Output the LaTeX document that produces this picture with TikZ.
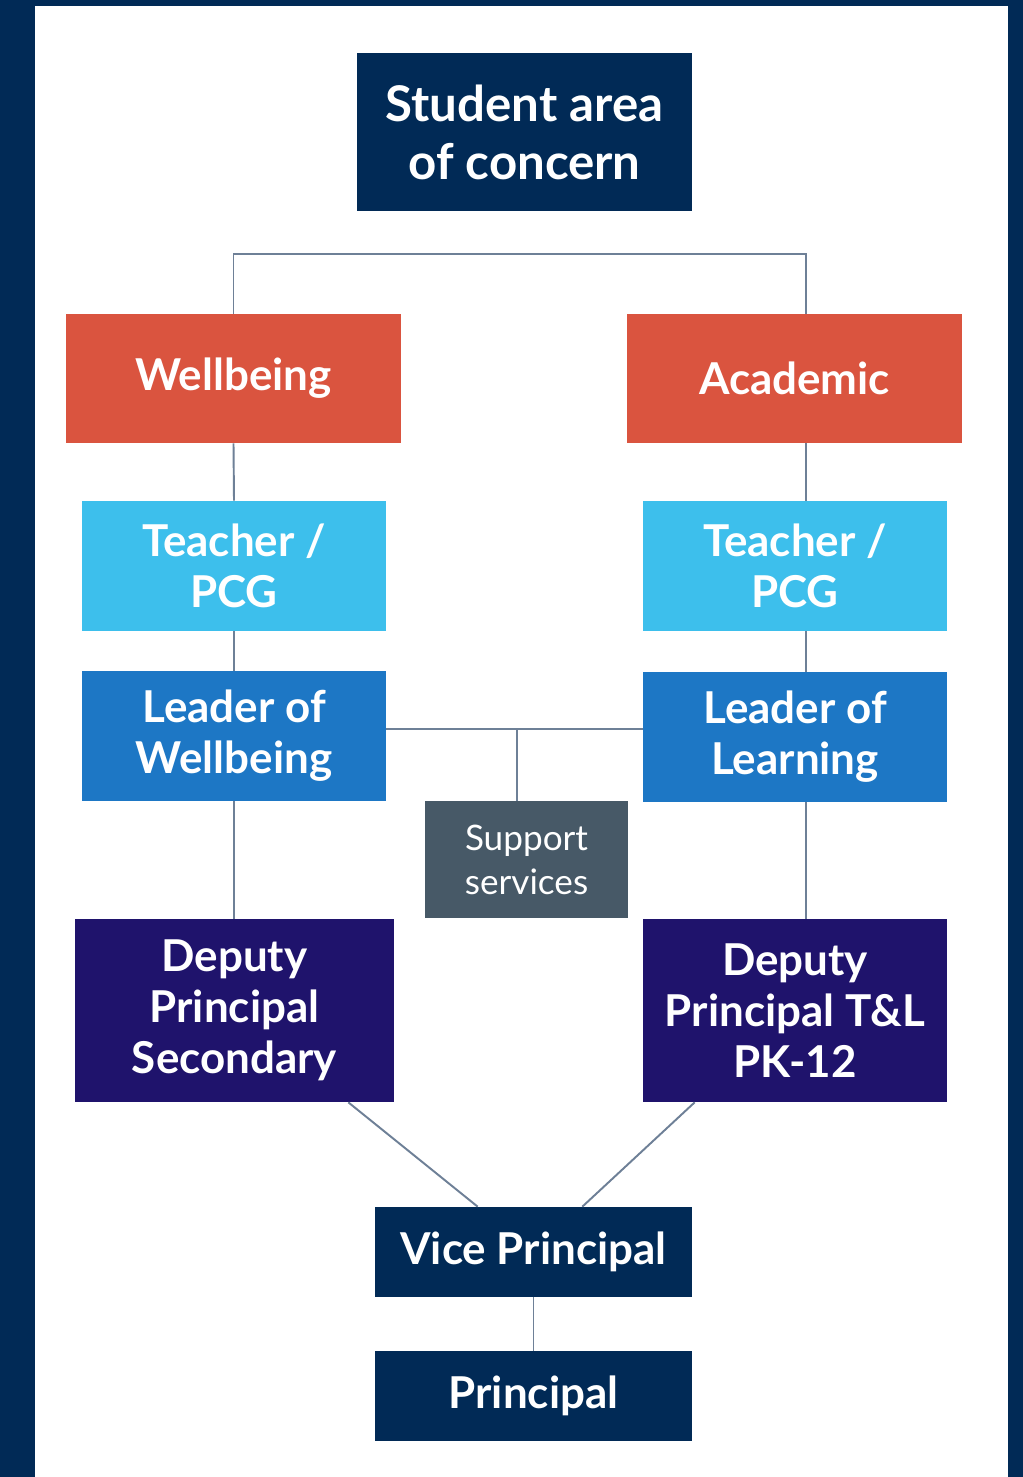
\documentclass[tikz,border=0pt]{standalone}
\usepackage{fontspec}
\setmainfont{Lato}
\usepackage{tikz}
\usetikzlibrary{calc,positioning}
\definecolor{navyC}{HTML}{012A56}
\definecolor{areaC}{HTML}{DA543F}
\definecolor{teachC}{HTML}{3DBFEC}
\definecolor{leadC}{HTML}{1D77C5}
\definecolor{suppC}{HTML}{475967}
\definecolor{deputyC}{HTML}{1F136C}
\definecolor{linkC}{HTML}{6E8097}

\begin{document}
\begin{tikzpicture}[x=0.02cm, y=-0.02cm,
    box/.style={inner sep=0pt, align=center, text=white, font=\bfseries\fontsize{25}{29}\selectfont},
    link/.style={draw=linkC, line width=1.1pt}]
      % Frame
      \useasboundingbox (0,0) rectangle (1023,1477);
      \fill[navyC] (0,0) rectangle (1023,1477);
      \fill[white] (35,6) rectangle (1008,1477);
      % Top of the tree
      \node[box, fill=navyC, minimum width=6.7cm, minimum height=3.16cm,
            font=\bfseries\fontsize{28}{33}\selectfont] (student) at (524.5,132) {Student area\\of concern};
      \node[box, fill=areaC, minimum width=6.7cm, minimum height=2.58cm] (wellb) at (233.5,378.5) {Wellbeing};
      \node[box, fill=areaC, minimum width=6.7cm, minimum height=2.58cm] (acad) at (794.5,378.5) {Academic};
      % Teachers and leaders
      \node[box, fill=teachC, minimum width=6.08cm, minimum height=2.6cm] (teachL) at (234,566) {Teacher /\\PCG};
      \node[box, fill=teachC, minimum width=6.08cm, minimum height=2.6cm] (teachR) at (795,566) {Teacher /\\PCG};
      \node[box, fill=leadC, minimum width=6.08cm, minimum height=2.6cm] (leadW) at (234,736) {Leader of\\Wellbeing};
      \node[box, fill=leadC, minimum width=6.08cm, minimum height=2.6cm] (leadL) at (795,737) {Leader of\\Learning};
      \node[box, fill=suppC, minimum width=4.06cm, minimum height=2.34cm,
            font=\fontsize{20}{25}\selectfont] (supp) at (526.5,859.5) {Support\\services};
      % Deputies and principals
      \node[box, fill=deputyC, minimum width=6.38cm, minimum height=3.66cm] (depS) at (234.5,1010.5) {Deputy\\Principal\\Secondary};
      \node[box, fill=deputyC, minimum width=6.08cm, minimum height=3.66cm] (depT) at (795,1010.5) {Deputy\\Principal T\&L\\PK-12};
      \node[box, fill=navyC, minimum width=6.34cm, minimum height=1.8cm] (vice) at (533.5,1252) {Vice Principal};
      \node[box, fill=navyC, minimum width=6.34cm, minimum height=1.8cm] (princ) at (533.5,1396) {Principal};
      % Connectors
      \coordinate (rcol) at (806,254);
      \coordinate (mid) at (517,729);
      \draw[link] (wellb.north) |- (rcol) -- (rcol |- acad.north);
      \draw[link] (wellb.south) -- (teachL.north);
      \draw[link] (teachL.south) -- (leadW.north);
      \draw[link] (leadW.south) -- (depS.north -| leadW.south);
      \draw[link] (rcol |- acad.south) -- (rcol |- teachR.north);
      \draw[link] (rcol |- teachR.south) -- (rcol |- leadL.north);
      \draw[link] (rcol |- leadL.south) -- (rcol |- depT.north);
      \draw[link] (leadW.east |- mid) -- (leadL.west |- mid);
      \draw[link] (mid) -- (mid |- supp.north);
      \draw[link] ([xshift=-0.92cm]depS.south east) -- ([xshift=2.06cm]vice.north west);
      \draw[link] ([xshift=1.04cm]depT.south west) -- ([xshift=-2.2cm]vice.north east);
      \draw[link] (vice.south) -- (princ.north);
\end{tikzpicture}
\end{document}
